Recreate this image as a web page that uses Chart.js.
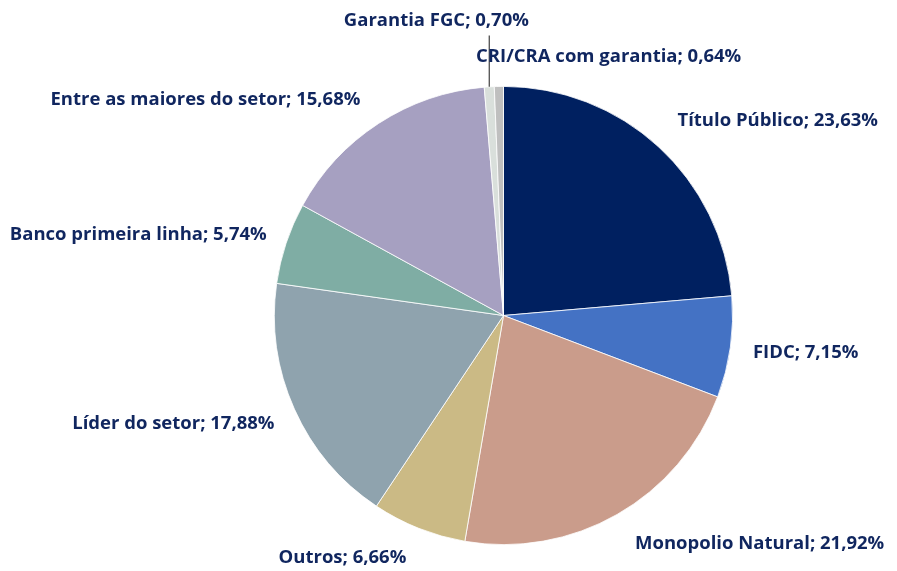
<!DOCTYPE html>
<html>
<head>
<meta charset="utf-8">
<script src="https://cdn.jsdelivr.net/npm/chart.js@4/dist/chart.umd.min.js"></script>
<style>
  html, body { margin: 0; padding: 0; background: #ffffff; }
  #wrap { width: 897px; height: 571px; position: relative; }
</style>
</head>
<body>
<div id="wrap"><canvas id="c" width="897" height="571"></canvas></div>
<script>
// Data (clockwise from 12 o'clock)
const categories = [
  "Título Público",
  "FIDC",
  "Monopolio Natural",
  "Outros",
  "Líder do setor",
  "Banco primeira linha",
  "Entre as maiores do setor",
  "Garantia FGC",
  "CRI/CRA com garantia"
];
const shares = [23.63, 7.15, 21.92, 6.66, 17.88, 5.74, 15.68, 0.70, 0.64];
const valueLabels = ["23,63%", "7,15%", "21,92%", "6,66%", "17,88%", "5,74%", "15,68%", "0,70%", "0,64%"];

// Styling
const sliceColors = ["#002060", "#4472C4", "#CA9C8B", "#CBBA85", "#8FA3AE", "#7FADA4", "#A6A0C1", "#D9DFDB", "#BFBFBF"];
// label centre offsets relative to pie centre, in units of the pie radius
const labelOffsets = [
  [1.197, -0.852], [1.319, 0.162], [1.118, 0.996], [-0.703, 1.057],
  [-1.441, 0.472], [-1.594, -0.354], [-1.301, -0.943], [-0.293, -1.288], [0.459, -1.130]
];
const leaderSlices = [7];

const labelPlugin = {
  id: 'pieLabels',
  afterDatasetsDraw(chart) {
    const ctx = chart.ctx;
    const meta = chart.getDatasetMeta(0);
    ctx.save();
    ctx.font = '700 18.5px "Open Sans", Roboto, sans-serif';
    ctx.fillStyle = '#10265F';
    ctx.textAlign = 'center';
    ctx.textBaseline = 'middle';
    meta.data.forEach((arc, i) => {
      const p = arc.getProps(['x', 'y', 'outerRadius', 'startAngle', 'endAngle'], true);
      const R = p.outerRadius;
      const lx = p.x + labelOffsets[i][0] * R;
      const ly = p.y + labelOffsets[i][1] * R;
      if (leaderSlices.includes(i)) {
        const mid = (p.startAngle + p.endAngle) / 2;
        const ex = p.x + Math.cos(mid) * R;
        const ey = p.y + Math.sin(mid) * R;
        ctx.beginPath();
        ctx.strokeStyle = '#404040';
        ctx.lineWidth = 1.2;
        ctx.moveTo(ex, ey);
        ctx.lineTo(ex, ly + 15);
        ctx.stroke();
      }
      ctx.fillText(categories[i] + '; ' + valueLabels[i], lx, ly);
    });
    ctx.restore();
  }
};

new Chart(document.getElementById('c'), {
  type: 'pie',
  data: {
    labels: categories,
    datasets: [{
      data: shares,
      backgroundColor: sliceColors,
      borderColor: '#ffffff',
      borderWidth: 0.8
    }]
  },
  options: {
    responsive: false,
    animation: false,
    layout: { padding: { left: 274, right: 164, top: 86, bottom: 26 } },
    plugins: {
      legend: { display: false },
      tooltip: { enabled: false }
    }
  },
  plugins: [labelPlugin]
});
</script>
</body>
</html>
